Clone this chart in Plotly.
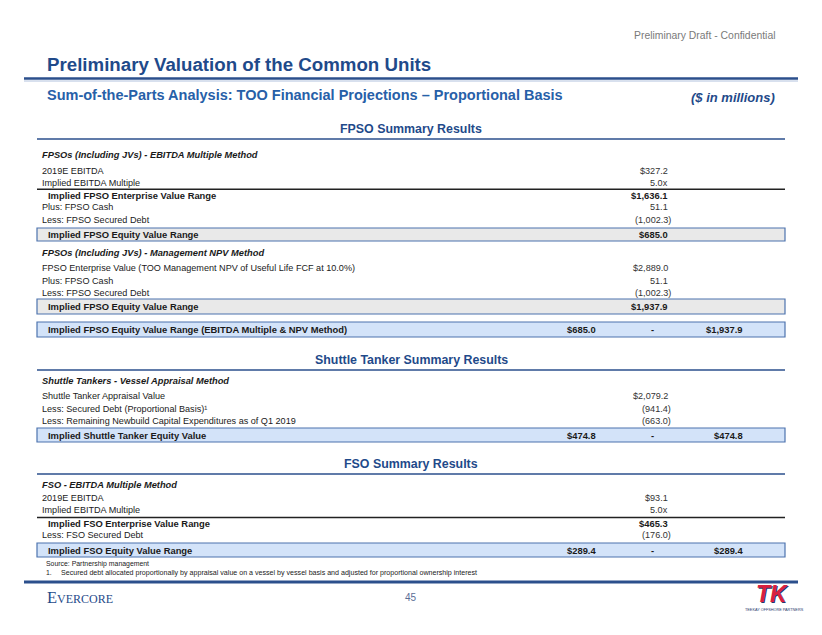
import plotly.graph_objects as go

# ---------------- data ----------------
header_note = "Preliminary Draft - Confidential"
title_text = "Preliminary Valuation of the Common Units"
subtitle_text = "Sum-of-the-Parts Analysis: TOO Financial Projections \u2013 Proportional Basis"
units_note = "($ in millions)"

fpso_title = "FPSO Summary Results"
fpso_m1_header = "FPSOs (Including JVs) - EBITDA Multiple Method"
fpso_m1_labels = ["2019E EBITDA", "Implied EBITDA Multiple", "Implied FPSO Enterprise Value Range",
                  "Plus: FPSO Cash", "Less: FPSO Secured Debt", "Implied FPSO Equity Value Range"]
fpso_m1_values = [327.2, 5.0, 1636.1, 51.1, -1002.3, 685.0]
fpso_m1_kinds = ["$", "x", "$", "n", "n", "$"]

fpso_m2_header = "FPSOs (Including JVs) - Management NPV Method"
fpso_m2_labels = ["FPSO Enterprise Value (TOO Management NPV of Useful Life FCF at 10.0%)",
                  "Plus: FPSO Cash", "Less: FPSO Secured Debt", "Implied FPSO Equity Value Range"]
fpso_m2_values = [2889.0, 51.1, -1002.3, 1937.9]
fpso_m2_kinds = ["$", "n", "n", "$"]

fpso_range_label = "Implied FPSO Equity Value Range (EBITDA Multiple & NPV Method)"
fpso_range = [685.0, 1937.9]

st_title = "Shuttle Tanker Summary Results"
st_header = "Shuttle Tankers - Vessel Appraisal Method"
st_labels = ["Shuttle Tanker Appraisal Value", "Less: Secured Debt (Proportional Basis)\u00b9",
             "Less: Remaining Newbuild Capital Expenditures as of Q1 2019"]
st_values = [2079.2, -941.4, -663.0]
st_kinds = ["$", "n", "n"]
st_range_label = "Implied Shuttle Tanker Equity Value"
st_range = [474.8, 474.8]

fso_title = "FSO Summary Results"
fso_header = "FSO - EBITDA Multiple Method"
fso_labels = ["2019E EBITDA", "Implied EBITDA Multiple", "Implied FSO Enterprise Value Range",
              "Less: FSO Secured Debt"]
fso_values = [93.1, 5.0, 465.3, -176.0]
fso_kinds = ["$", "x", "$", "n"]
fso_range_label = "Implied FSO Equity Value Range"
fso_range = [289.4, 289.4]

source_note = "Source: Partnership management"
footnote_num = "1."
footnote_text = ("Secured debt allocated proportionally by appraisal value on a vessel by vessel basis "
                 "and adjusted for proportional ownership interest")
page_number = "45"
left_logo = "Evercore"
right_logo = "TK"
right_logo_sub = "TEEKAY OFFSHORE PARTNERS"

# ---------------- style ----------------
W, H = 822, 635
OFF = 8  # page body margin
SANS = "Liberation Sans, Arial, sans-serif"
BLUE = "#1F4A8A"
LINE_BLUE = "#2B4F8C"
TXT = "#1a1a1a"
VAL = "#333333"
GRAY_FILL = "#E9E9E9"
LBLUE_FILL = "#D3E3F9"
BOX_EDGE = "#4D73AE"
FS = 9.1
FSB = 9.4
X0, X1 = 37, 785
LX, BX = 40, 46
VX, VXP = 670, 673
R1, DASH, R2 = 598, 652, 745


def fmt(v, kind):
    if kind == "x":
        return f"{v:.1f}x"
    if v < 0:
        return f"({abs(v):,.1f})"
    if kind == "$":
        return f"${v:,.1f}"
    return f"{v:,.1f}"


annotations = []
shapes = []


def text(x, y, s, size=FS, color=TXT, anchor="left", family=SANS, yanchor="middle"):
    annotations.append(dict(x=x, y=y, xref="x", yref="y", text=s, showarrow=False,
                            xanchor=anchor, yanchor=yanchor,
                            font=dict(size=size, color=color, family=family)))


def hline(y, color, width, x0=X0, x1=X1):
    shapes.append(dict(type="line", xref="x", yref="y", x0=x0, x1=x1, y0=y, y1=y,
                       line=dict(color=color, width=width)))


def box(y0, y1, fill):
    shapes.append(dict(type="rect", xref="x", yref="y", x0=X0, x1=X1, y0=y0, y1=y1,
                       fillcolor=fill, line=dict(color=BOX_EDGE, width=1.2), layer="below"))


def value(y, v, kind, bold=False):
    s = fmt(v, kind)
    x = VXP if s.startswith("(") else VX
    if bold:
        text(x, y, f"<b>{s}</b>", size=FSB, color=TXT, anchor="right")
    else:
        text(x, y, s, color=VAL, anchor="right")


def section_title(y, s, line_y):
    text(411, y, f"<b>{s}</b>", size=12.4, color=BLUE, anchor="center")
    hline(line_y, LINE_BLUE, 1.6)


def range_box(y0, y1, label, rng):
    box(y0, y1, LBLUE_FILL)
    ym = (y0 + y1) / 2
    text(BX, ym, f"<b>{label}</b>", size=FSB)
    text(R1, ym, f"<b>{fmt(rng[0], '$')}</b>", size=FSB, anchor="right")
    text(DASH, ym, "<b>-</b>", size=FSB, anchor="center")
    text(R2, ym, f"<b>{fmt(rng[1], '$')}</b>", size=FSB, anchor="right")


# ---- header ----
text(777, 35, header_note, size=10.4, color="#7a7a7a", anchor="right")
text(45, 64, f"<b>{title_text}</b>", size=18.7, color=BLUE)
hline(78.5, LINE_BLUE, 2.6, 24, 798)
hline(81, "#9FB3D4", 0.8, 24, 798)
text(45, 95, f"<b>{subtitle_text}</b>", size=14.5, color="#2760A8")
text(777, 97, f"<b><i>{units_note}</i></b>", size=13, color=BLUE, anchor="right")

# ---- FPSO ----
section_title(129, fpso_title, 139)
text(LX, 155, f"<b><i>{fpso_m1_header}</i></b>", size=9.3)
m1_y = [171, 183, 195, 207, 219.5, 234.5]
for i, (lab, v, k, y) in enumerate(zip(fpso_m1_labels, fpso_m1_values, fpso_m1_kinds, m1_y)):
    if i == 2:
        hline(189.3, "#222222", 1.5)
        text(BX, y, f"<b>{lab}</b>", size=FSB)
        value(y, v, k, bold=True)
    elif i == 5:
        box(228, 241, GRAY_FILL)
        text(BX, y, f"<b>{lab}</b>", size=FSB)
        value(y, v, k, bold=True)
    else:
        text(LX, y, lab)
        value(y, v, k)

text(LX, 253, f"<b><i>{fpso_m2_header}</i></b>", size=9.3)
m2_y = [268, 280.5, 293, 306.5]
for i, (lab, v, k, y) in enumerate(zip(fpso_m2_labels, fpso_m2_values, fpso_m2_kinds, m2_y)):
    if i == 3:
        box(299, 314, GRAY_FILL)
        text(BX, y, f"<b>{lab}</b>", size=FSB)
        value(y, v, k, bold=True)
    else:
        text(LX, y, lab)
        value(y, v, k)

range_box(322, 337, fpso_range_label, fpso_range)

# ---- Shuttle tankers ----
section_title(360, st_title, 370)
text(LX, 381, f"<b><i>{st_header}</i></b>", size=9.3)
for lab, v, k, y in zip(st_labels, st_values, st_kinds, [396, 408.5, 421]):
    text(LX, y, lab)
    value(y, v, k)
range_box(428, 442, st_range_label, st_range)

# ---- FSO ----
section_title(464, fso_title, 474)
text(LX, 485, f"<b><i>{fso_header}</i></b>", size=9.3)
fso_y = [498, 510, 523, 535]
for i, (lab, v, k, y) in enumerate(zip(fso_labels, fso_values, fso_kinds, fso_y)):
    if i == 2:
        hline(517.5, "#222222", 1.5)
        text(BX, y, f"<b>{lab}</b>", size=FSB)
        value(y, v, k, bold=True)
    else:
        text(LX, y, lab)
        value(y, v, k)
range_box(543, 557, fso_range_label, fso_range)

# ---- footnotes ----
text(44, 564.3, source_note, size=6.9)
text(44, 572.8, footnote_num, size=6.9)
text(59, 572.8, footnote_text, size=7.1)
hline(582, LINE_BLUE, 3, 24, 798)

# ---- footer ----
annotations.append(dict(x=45, y=597, xref="x", yref="y", text=left_logo, showarrow=False,
                        xanchor="left", yanchor="middle",
                        font=dict(size=16.5, color=BLUE, family="Liberation Serif, serif",
                                  variant="small-caps")))
text(411, 597, page_number, size=10, color="#5A6E96", anchor="center")
annotations.append(dict(x=772, y=594, xref="x", yref="y", text=f"<b><i>{right_logo}</i></b>",
                        showarrow=False, xanchor="center", yanchor="middle",
                        font=dict(size=23, color="#D8203F", family="Liberation Sans, sans-serif",
                                  shadow="1px 1px 0px #1F3A6E")))
text(774, 610, right_logo_sub, size=3.8, color="#1F3A6E", anchor="center")

fig = go.Figure()
fig.update_layout(
    width=W - OFF, height=H - OFF, margin=dict(l=0, r=0, t=0, b=0),
    paper_bgcolor="white", plot_bgcolor="white",
    xaxis=dict(range=[OFF, W], visible=False, fixedrange=True),
    yaxis=dict(range=[H, OFF], visible=False, fixedrange=True),
    shapes=shapes, annotations=annotations, showlegend=False,
)
fig.write_html("out.html")
